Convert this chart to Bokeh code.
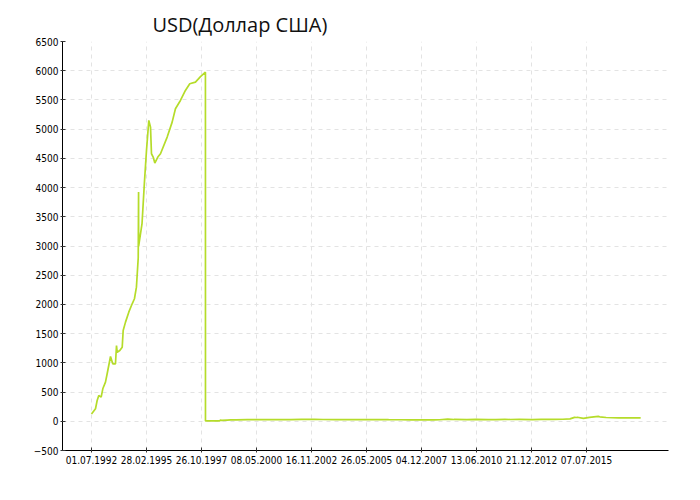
import numpy as np
from datetime import date
from bokeh.plotting import figure
from bokeh.models import Range1d, FixedTicker
from bokeh.embed import file_html
from bokeh.resources import INLINE

# Tick labels (dates) on the x axis
tick_labels = ["01.07.1992", "28.02.1995", "26.10.1997", "08.05.2000", "16.11.2002",
               "26.05.2005", "04.12.2007", "13.06.2010", "21.12.2012", "07.07.2015"]

# Series: USD rate (rubles per dollar)
dates = [
    "1992-07-01", "1992-09-10", "1992-10-09", "1992-11-07", "1992-12-19", "1993-01-17",
    "1993-03-05", "1993-04-04", "1993-06-02", "1993-07-12", "1993-08-29", "1993-09-16",
    "1993-09-28", "1993-11-13", "1993-12-26", "1994-01-12", "1994-02-22", "1994-04-21",
    "1994-06-20", "1994-07-30", "1994-09-03", "1994-10-05", "1994-10-11", "1994-10-12",
    "1994-12-11", "1995-01-21", "1995-02-28", "1995-04-10", "1995-05-10", "1995-05-27",
    "1995-06-26", "1995-07-25", "1995-09-16", "1995-11-02", "1996-02-28", "1996-05-26",
    "1996-07-23", "1996-10-19", "1997-01-15", "1997-04-02", "1997-07-11", "1997-10-08",
    "1997-12-31",
    "1998-01-01", "1998-08-17", "1998-08-25", "1998-09-09", "1998-10-01", "1998-12-31",
    "1999-03-01", "1999-06-01", "1999-12-01", "2000-06-01", "2001-01-01", "2001-12-01",
    "2002-06-01", "2003-01-01", "2003-06-01", "2004-01-01", "2004-06-01", "2005-01-01",
    "2005-06-01", "2006-01-01", "2006-06-01", "2007-01-01", "2007-06-01", "2008-01-01",
    "2008-07-01", "2008-10-01", "2009-02-15", "2009-06-01", "2010-01-01", "2010-06-01",
    "2011-01-01", "2011-05-01", "2011-10-01", "2012-01-01", "2012-06-01", "2013-01-01",
    "2013-06-01", "2014-01-01", "2014-06-01", "2014-10-01", "2014-12-16", "2015-01-15",
    "2015-02-01", "2015-05-15", "2015-08-25", "2016-01-21", "2016-02-15", "2016-06-01",
    "2017-01-01", "2017-06-01", "2017-09-01", "2018-01-05",
]
usd = [
    125, 215, 356, 442, 414, 556,
    670, 813, 1109, 984, 984, 1297,
    1183, 1212, 1269, 1554, 1697, 1868,
    2011, 2097, 2296, 2800, 3926, 2994,
    3382, 4067, 4636, 5150, 5035, 4579,
    4522, 4420, 4522, 4579, 4864, 5120,
    5349, 5491, 5662, 5776, 5804, 5900,
    5975,
    5.96, 6.3, 7.9, 20.8, 15.9, 20.65,
    23.0, 24.4, 27.0, 28.2, 28.2, 30.1,
    31.4, 31.8, 30.5, 29.4, 29.0, 27.7,
    28.6, 28.8, 27.0, 26.3, 25.8, 24.5,
    23.4, 26.5, 36.0, 31.0, 30.0, 31.0,
    30.0, 27.5, 32.0, 30.5, 33.0, 30.0,
    32.7, 33.5, 34.5, 41.0, 67.8, 65.0,
    69.0, 50.0, 67.0, 83.6, 77.0, 65.0,
    59.6, 57.0, 58.0, 57.6,
]

def to_ord(s):
    if "." in s:
        d, m, y = s.split(".")
        return date(int(y), int(m), int(d)).toordinal()
    y, m, d = s.split("-")
    return date(int(y), int(m), int(d)).toordinal()

tick_ord = np.array([to_ord(s) for s in tick_labels], dtype=float)
tick_pos = np.arange(len(tick_labels), dtype=float)

def date_to_pos(o):
    if o <= tick_ord[-1]:
        return float(np.interp(o, tick_ord, tick_pos))
    span = tick_ord[-1] - tick_ord[-2]
    return tick_pos[-1] + (o - tick_ord[-1]) / span

xs = [date_to_pos(to_ord(d)) for d in dates]

p = figure(width=684, height=484, output_backend="svg", toolbar_location=None,
           x_range=Range1d(-0.527, 10.49), y_range=Range1d(-500, 6500),
           min_border_left=62, min_border_right=16, min_border_top=41, min_border_bottom=34)

p.title.text = "USD(Доллар США)"
p.title.text_font = "Open Sans"
p.title.text_font_size = "20px"
p.title.text_font_style = "normal"
p.title.align = "left"
p.title.offset = 90
p.title.text_color = "#111111"
p.title.standoff = 8

p.line(xs, usd, line_color="#b5dc2a", line_width=1.7)

p.outline_line_color = None
p.background_fill_color = "white"
p.border_fill_color = "white"

p.xaxis.ticker = FixedTicker(ticks=list(tick_pos))
p.xaxis.major_label_overrides = {float(i): lab for i, lab in enumerate(tick_labels)}
p.yaxis.ticker = FixedTicker(ticks=list(range(-500, 6501, 500)))

for ax in (p.xaxis, p.yaxis):
    ax.axis_line_color = "black"
    ax.axis_line_width = 1
    ax.major_tick_line_color = "#333333"
    ax.major_tick_in = 3
    ax.major_tick_out = 2
    ax.minor_tick_line_color = None
    ax.major_label_text_font = "DejaVu Sans Condensed"
    ax.major_label_text_font_size = "10px"
    ax.major_label_text_color = "black"
    ax.major_label_standoff = 2

p.xaxis.major_label_standoff = 3

for g in (p.xgrid, p.ygrid):
    g.grid_line_color = "#e3e3e3"
    g.grid_line_dash = "4 4"
    g.grid_line_width = 1

p.xgrid.ticker = FixedTicker(ticks=list(tick_pos))
p.ygrid.ticker = FixedTicker(ticks=list(range(-500, 6501, 500)))

open("out.html", "w").write(file_html(p, INLINE))
